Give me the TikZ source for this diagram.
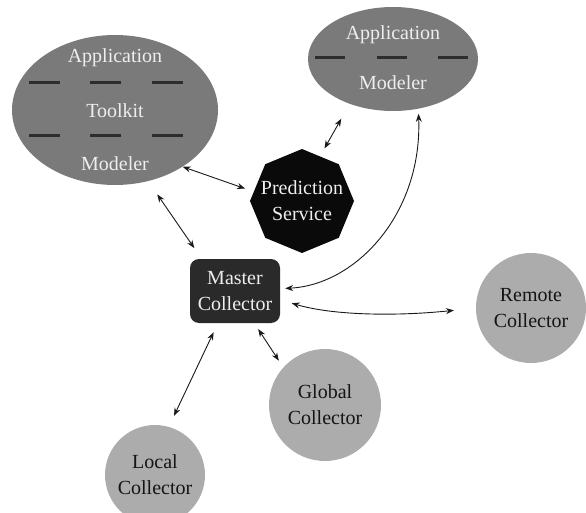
\documentclass[tikz,border=0pt]{standalone}
\usepackage{fontspec}
\setmainfont{Liberation Serif}
\usetikzlibrary{shapes.geometric,arrows.meta}

\definecolor{appgray}{RGB}{122,122,122}
\definecolor{collgray}{RGB}{172,172,172}
\definecolor{masterdark}{RGB}{42,42,42}
\definecolor{predblack}{RGB}{10,10,10}
\definecolor{dashgray}{RGB}{45,45,45}
\definecolor{lighttext}{RGB}{238,238,238}
\definecolor{darktext}{RGB}{20,20,20}

\tikzset{
  lbl/.style={font=\fontsize{20}{26}\selectfont, align=center, inner sep=0pt},
  appellipse/.style={ellipse, fill=appgray, inner sep=0pt},
  applabel/.style={lbl, text=lighttext},
  collector/.style={circle, fill=collgray, inner sep=0pt, lbl, text=darktext},
  link/.style={line width=0.9pt, black!90,
    {Stealth[length=8pt,width=6pt]}-{Stealth[length=8pt,width=6pt]}},
  sepdash/.style={line width=3pt, dashgray},
}

\begin{document}
\begin{tikzpicture}[x=1pt,y=-1pt]
  \useasboundingbox (0,0) rectangle (586,513);
  \clip (0,0) rectangle (586,513);

  % application modeler with toolkit (left)
  \node[appellipse, minimum width=206pt, minimum height=150pt] (leftapp) at (115,110) {};
  \node[applabel] (leftappA) at (115,58) {Application};
  \node[applabel] (leftappT) at (115,111) {Toolkit};
  \node[applabel] (leftappM) at (115,164) {Modeler};
  \draw[sepdash] (29,83) -- (60,83)  (90,83) -- (121,83)  (152,83) -- (183,83);
  \draw[sepdash] (29,136) -- (60,136)  (90,136) -- (121,136)  (152,136) -- (183,136);

  % application modeler (right)
  \node[appellipse, minimum width=170pt, minimum height=104pt] (rightapp) at (393,59) {};
  \node[applabel] (rightappA) at (393,35) {Application};
  \node[applabel] (rightappM) at (393,83) {Modeler};
  \draw[sepdash] (315,58) -- (345,58)  (377,58) -- (407,58)  (438,58) -- (468,58);

  % prediction service
  \node[regular polygon, regular polygon sides=8, shape border rotate=22.5,
        minimum size=104pt, inner sep=0pt, fill=predblack]
        (pred) at (302,201) {};
  \node[lbl, text=lighttext] (predtext) at (pred.center) {Prediction\\Service};

  % master collector
  \node[rectangle, rounded corners=9pt, fill=masterdark, minimum width=90pt,
        minimum height=64pt, lbl, text=lighttext]
        (master) at (235,291) {Master\\Collector};

  % collectors
  \node[collector, minimum size=110pt] (remote) at (531,308) {Remote\\Collector};
  \node[collector, minimum size=112pt] (global) at (325,405) {Global\\Collector};
  \node[collector, minimum size=100pt] (local) at (155,475) {Local\\Collector};

  % connections
  \draw[link, shorten >=9pt] (leftapp.-40) -- (pred.169);
  \draw[link, shorten <=16pt, shorten >=13pt] (leftapp.-65) -- (master.136);
  \draw[link, shorten <=17pt, shorten >=9pt] (rightapp.-134) -- (pred.68);
  \draw[link, shorten <=5pt, shorten >=5pt]
    (master.3) .. controls (355,285) and (422,215) .. (rightapp.-63);
  \draw[link, shorten <=12pt, shorten >=22pt]
    (master.-11) .. controls (335,316) and (400,316) .. (remote.180);
  \draw[link, shorten <=7pt, shorten >=8pt] (master.-59) -- (global.138);
  \draw[link, shorten <=10pt, shorten >=12pt] (master.-118) -- (local.74);
\end{tikzpicture}
\end{document}
